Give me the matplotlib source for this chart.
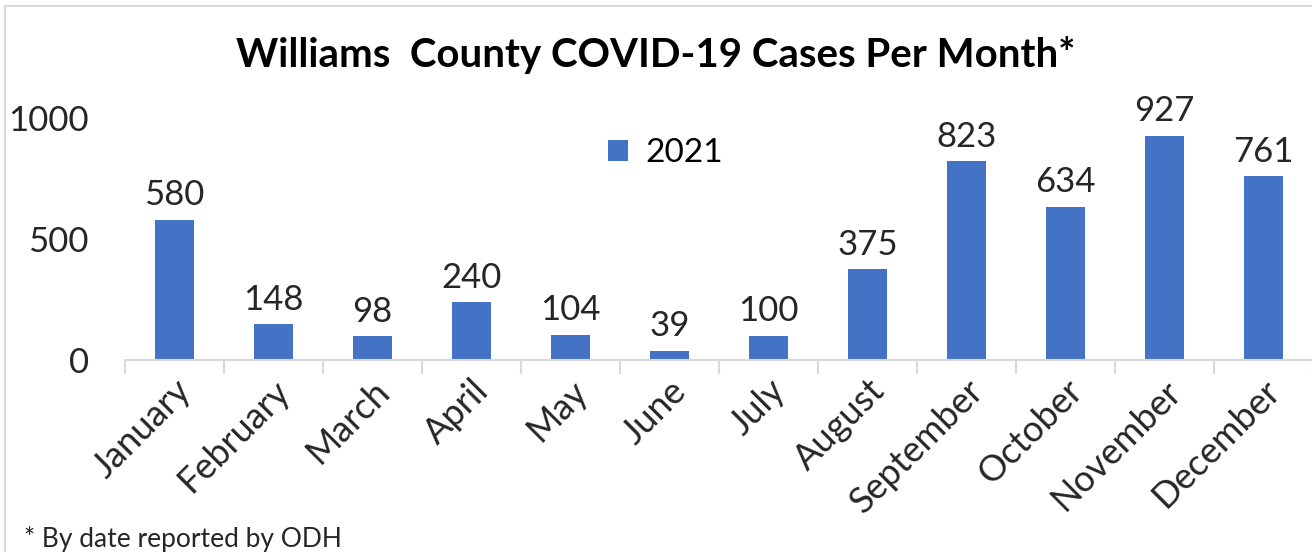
import matplotlib
matplotlib.use("Agg")
import matplotlib.pyplot as plt

months = ["January", "February", "March", "April", "May", "June",
          "July", "August", "September", "October", "November", "December"]
cases = [580, 148, 98, 240, 104, 39, 100, 375, 823, 634, 927, 761]
series_name = "2021"
yticks = [0, 500, 1000]

plt.rcParams["font.family"] = ["Lato", "DejaVu Sans"]

fig = plt.figure(figsize=(13.12, 5.52), dpi=100)
# light frame around the chart area
fig.patches.append(plt.Rectangle((0.004, -0.05), 1.2, 1.04, transform=fig.transFigure,
                                 fill=False, edgecolor="#d9d9d9", linewidth=1.5))

ax = fig.add_axes([125 / 1312, (552 - 360) / 552, 1188 / 1312, 242 / 552])
x = range(len(months))
ax.bar(x, cases, width=0.4, color="#4472c4", label=series_name, zorder=2)
for xi, v in zip(x, cases):
    ax.annotate(str(v), (xi, v), xytext=(0, 6), textcoords="offset points",
                ha="center", va="bottom", fontsize=25, color="#262626")

ax.set_xlim(-0.5, len(months) - 0.5)
ax.set_ylim(0, 1000)
ax.set_yticks(yticks)
ax.tick_params(axis="y", length=0, labelsize=25, labelcolor="#262626", pad=26)

ax.set_xticks([i - 0.5 for i in range(len(months) + 1)], minor=False)
ax.set_xticklabels([])
ax.set_xticks(list(x), minor=True)
ax.set_xticklabels(months, minor=True, rotation=45, ha="right", rotation_mode="anchor",
                   fontsize=26, color="#262626")
ax.tick_params(axis="x", which="major", length=10, color="#d9d9d9", width=1.5)
ax.tick_params(axis="x", which="minor", length=0, pad=10)

for s in ["top", "right", "left"]:
    ax.spines[s].set_visible(False)
ax.spines["bottom"].set_color("#d9d9d9")
ax.spines["bottom"].set_linewidth(1.5)

fig.text(0.5, 0.90, "Williams  County COVID-19 Cases Per Month*", ha="center", va="center",
         fontsize=29, fontweight="bold", color="black")
ax.legend(loc="upper center", bbox_to_anchor=(0.455, 1.04), frameon=False, fontsize=24,
          handlelength=0.6, handleheight=0.6, handletextpad=0.5)
fig.text(0.018, 0.0, "* By date reported by ODH", ha="left", va="bottom",
         fontsize=19, color="#262626")

fig.savefig("out.png", dpi=100)
